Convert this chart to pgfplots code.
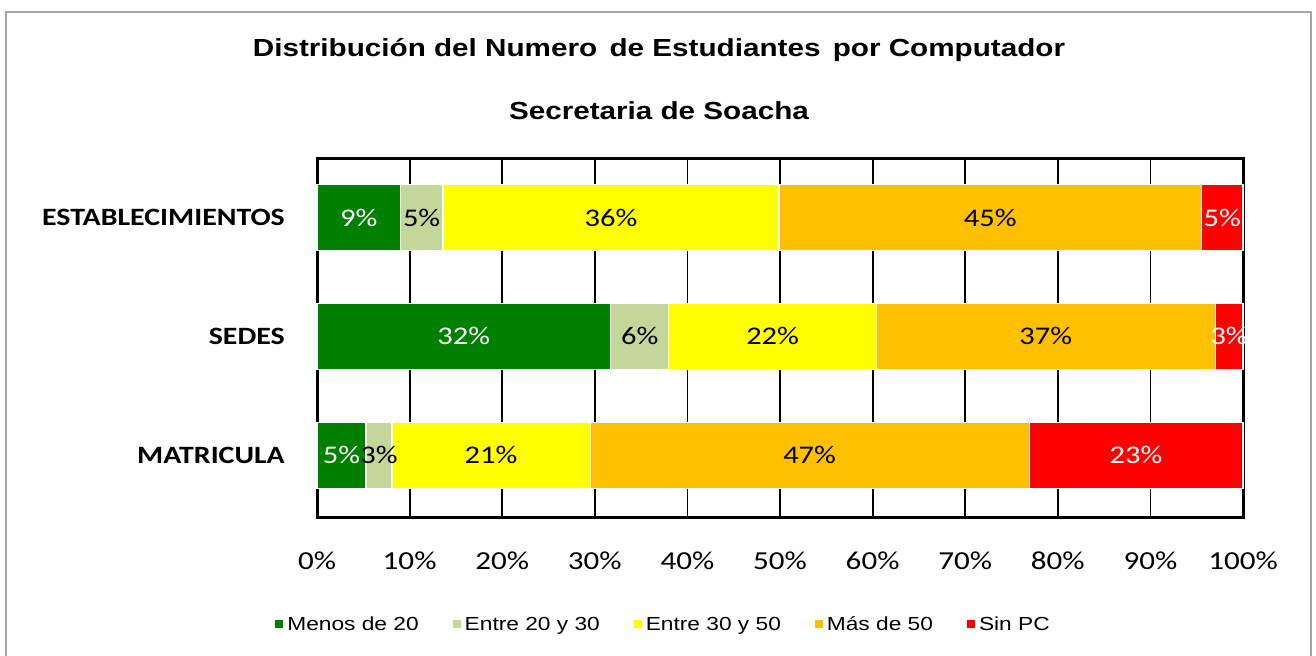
\documentclass[border=0pt]{standalone}
\usepackage{pgfplots}
\pgfplotsset{compat=1.18}
\usepackage{pgfplotstable}
\usepackage{fontspec}
\setmainfont{Carlito}[FakeStretch=1.2]
\newfontfamily\arial{Liberation Sans}[FakeStretch=1.2]
\definecolor{dgreen}{RGB}{0,128,0}
\definecolor{lgreen}{RGB}{196,215,155}
\definecolor{yel}{RGB}{255,255,0}
\definecolor{org}{RGB}{255,192,0}
\definecolor{rd}{RGB}{255,0,0}

% y: 0 = MATRICULA, 1 = SEDES, 2 = ESTABLECIMIENTOS
\pgfplotstableread{
y v lab
0 5.3 5
1 31.7 32
2 9.0 9
}\tmenos
\pgfplotstableread{
y v lab
0 2.8 3
1 6.3 6
2 4.6 5
}\tentreA
\pgfplotstableread{
y v lab
0 21.4 21
1 22.4 22
2 36.3 36
}\tentreB
\pgfplotstableread{
y v lab
0 47.4 47
1 36.6 37
2 45.6 45
}\tmas
\pgfplotstableread{
y v lab
0 23.1 23
1 3.0 3
2 4.5 5
}\tsin

\begin{document}
\begin{tikzpicture}
\path[use as bounding box] (0,0) rectangle (1316bp,-656bp);
\draw[gray!70, line width=1.5bp] (6bp,-670bp) -- (6bp,-12bp) -- (1311bp,-12bp) -- (1311bp,-670bp);
\node[anchor=base, font=\arial\bfseries\fontsize{24.8}{29}\selectfont] at (659bp,-56bp) {Distribución del Numero\, de Estudiantes\, por Computador};
\node[anchor=base, font=\arial\bfseries\fontsize{24.8}{29}\selectfont] at (659bp,-119bp) {Secretaria de Soacha};
\begin{axis}[
  at={(317bp,-517bp)}, anchor=south west,
  width=926bp, height=359bp, scale only axis,
  xbar stacked, bar width=66bp,
  xmin=0, xmax=100, ymin=-0.52, ymax=2.5,
  clip=false,
  axis line style={black, line width=3bp},
  xmajorgrids, major grid style={black, line width=1.8bp},
  major tick length=0pt,
  xtick={0,10,...,100},
  xticklabels={0\%,10\%,20\%,30\%,40\%,50\%,60\%,70\%,80\%,90\%,100\%},
  xticklabel style={anchor=base, yshift=-52bp, font=\fontsize{26}{31}\selectfont},
  ytick={0,1,2},
  yticklabels={MATRICULA,SEDES,ESTABLECIMIENTOS},
  yticklabel style={anchor=east, inner sep=0pt, xshift=-32bp, font=\bfseries\fontsize{25}{30}\selectfont},
  point meta=explicit symbolic,
  nodes near coords={\pgfplotspointmeta\%},
  every node near coord/.append style={anchor=center, inner sep=0pt, font=\fontsize{25.5}{30}\selectfont},
  legend columns=-1,
  legend style={draw=none, fill=none, at={(0.3737,-0.2994)}, anchor=center,
    font=\arial\fontsize{19}{23}\selectfont,
    nodes={inner sep=1bp},
    /tikz/every odd column/.style={column sep=3bp},
    /tikz/every even column/.style={column sep=33bp}},
  legend image code/.code={\fill[#1, draw=none] (0bp,-4bp) rectangle (8bp,4bp);},
]
\addplot[fill=dgreen, draw=white, line width=1.2bp, every node near coord/.append style={text=white}] table[x=v, y=y, meta=lab] {\tmenos};
\addplot[fill=lgreen, draw=white, line width=1.2bp, every node near coord/.append style={text=black}] table[x=v, y=y, meta=lab] {\tentreA};
\addplot[fill=yel, draw=white, line width=1.2bp, every node near coord/.append style={text=black}] table[x=v, y=y, meta=lab] {\tentreB};
\addplot[fill=org, draw=white, line width=1.2bp, every node near coord/.append style={text=black}] table[x=v, y=y, meta=lab] {\tmas};
\addplot[fill=rd, draw=white, line width=1.2bp, every node near coord/.append style={text=white}] table[x=v, y=y, meta=lab] {\tsin};
\legend{Menos de 20, Entre 20 y 30, Entre 30 y 50, Más de 50, Sin PC}
\end{axis}
\end{tikzpicture}
\end{document}
